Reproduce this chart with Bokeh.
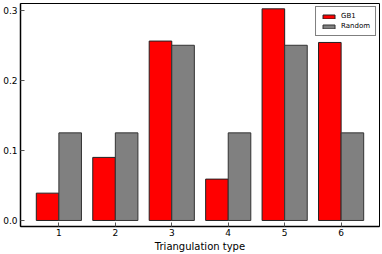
from bokeh.plotting import figure
from bokeh.models import ColumnDataSource, FixedTicker, Range1d, Legend, LegendItem, CustomJSTickFormatter
from bokeh.embed import file_html
from bokeh.resources import INLINE

categories = [1, 2, 3, 4, 5, 6]
gb1 = [0.039, 0.090, 0.256, 0.059, 0.302, 0.254]
random_vals = [0.125, 0.125, 0.250, 0.125, 0.250, 0.125]
y_ticks = [0.0, 0.1, 0.2, 0.3]
bar_w = 0.4

FONT = "DejaVu Sans"

p = figure(width=382, height=254, output_backend="svg", toolbar_location=None,
           x_range=Range1d(0.32, 6.68), y_range=Range1d(-0.0086, 0.3096),
           min_border_left=20, min_border_right=3, min_border_top=3, min_border_bottom=28)

src = ColumnDataSource(dict(
    x_gb=[c - bar_w / 2 for c in categories],
    x_rd=[c + bar_w / 2 for c in categories],
    gb1=gb1, rd=random_vals))

r1 = p.vbar(x="x_gb", top="gb1", bottom=0, width=bar_w, source=src,
            fill_color="#ff0000", line_color="#222222", line_width=1)
r2 = p.vbar(x="x_rd", top="rd", bottom=0, width=bar_w, source=src,
            fill_color="#808080", line_color="#333333", line_width=1)

p.xgrid.visible = False
p.ygrid.visible = False
p.outline_line_color = "black"
p.outline_line_width = 1

for ax in (p.xaxis[0], p.yaxis[0]):
    ax.major_tick_in = 4
    ax.major_tick_out = 0
    ax.minor_tick_in = 0
    ax.minor_tick_out = 0
    ax.axis_line_color = "black"
    ax.axis_line_width = 1.5
    ax.major_tick_line_color = "#555555"
    ax.major_label_text_font = FONT
    ax.major_label_text_font_size = "9px"
    ax.major_label_text_color = "black"

p.yaxis.major_label_standoff = 3
p.xaxis.major_label_standoff = 2
p.xaxis.ticker = FixedTicker(ticks=categories)
p.yaxis.ticker = FixedTicker(ticks=y_ticks)
p.yaxis.formatter = CustomJSTickFormatter(code="return tick.toFixed(1);")
p.xaxis.axis_label = "Triangulation type"
p.xaxis.axis_label_text_font = FONT
p.xaxis.axis_label_text_font_size = "10px"
p.xaxis.axis_label_text_font_style = "normal"
p.xaxis.axis_label_text_color = "black"
p.xaxis.axis_label_standoff = 2

legend = Legend(items=[LegendItem(label="GB1", renderers=[r1]),
                       LegendItem(label="Random", renderers=[r2])],
                location="top_right")
legend.label_text_font = FONT
legend.label_text_font_size = "7px"
legend.label_text_color = "black"
legend.glyph_width = 15
legend.glyph_height = 5
legend.label_height = 8
legend.spacing = 2
legend.padding = 5
legend.margin = 3
legend.border_line_color = "black"
legend.border_line_width = 1
legend.label_standoff = 5
p.add_layout(legend)

open("out.html", "w").write(file_html(p, INLINE))
